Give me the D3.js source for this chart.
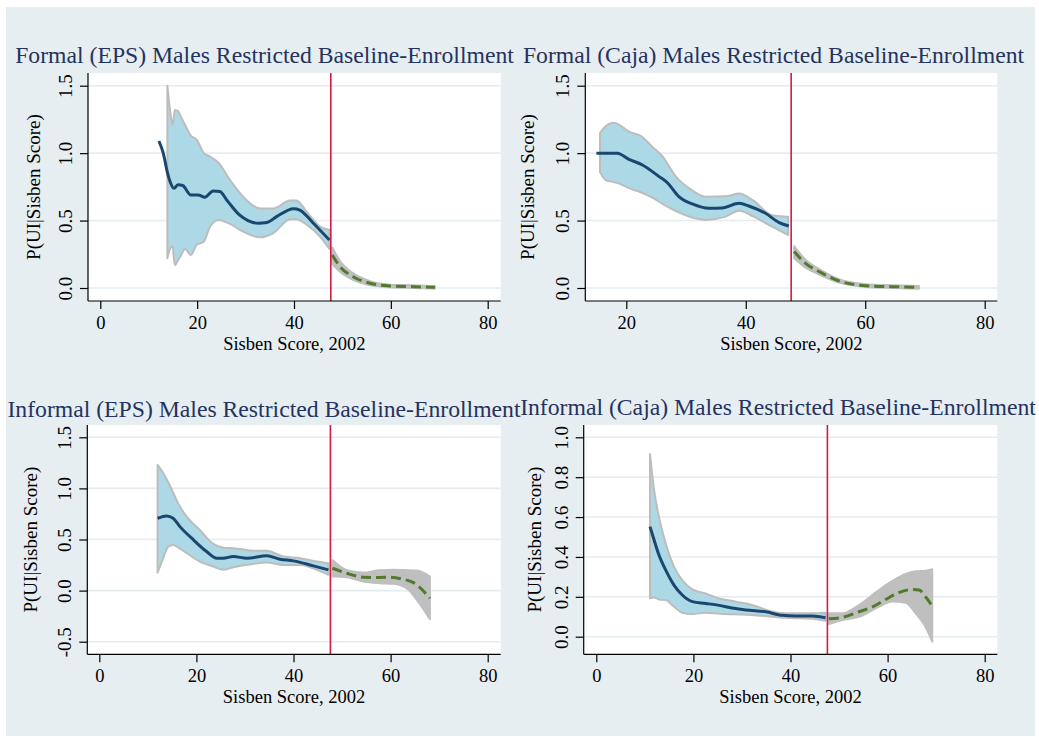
<!DOCTYPE html>
<html>
<head>
<meta charset="utf-8">
<script src="https://cdn.jsdelivr.net/npm/d3@7"></script>
<style>
  body { margin: 0; background: #ffffff; }
  svg { display: block; }
</style>
</head>
<body>
<svg id="chart" width="1039" height="737"></svg>
<script>
// ---- data -------------------------------------------------------------
const panelTitles = [
  "Formal (EPS) Males Restricted Baseline-Enrollment",
  "Formal (Caja) Males Restricted Baseline-Enrollment",
  "Informal (EPS) Males Restricted Baseline-Enrollment",
  "Informal (Caja) Males Restricted Baseline-Enrollment"
];
const xAxisTitle = "Sisben Score, 2002";
const yAxisTitle = "P(UI|Sisben Score)";
const xTickValues = [[0, 20, 40, 60, 80], [20, 40, 60, 80], [0, 20, 40, 60, 80], [0, 20, 40, 60, 80]];
const yTickValues = [[0, 0.5, 1, 1.5], [0, 0.5, 1, 1.5], [-0.5, 0, 0.5, 1, 1.5], [0, 0.2, 0.4, 0.6, 0.8, 1]];
const cutoffScore = 47.6;

// fitted values [score, p] and confidence bands [score, lower, upper]
const formalEpsFitBelow = [[12.1,1.09],[13.0,1.0],[13.9,0.85],[14.4,0.79],[15.2,0.74],[16.1,0.765],[17.0,0.76],[18.7,0.69],[20.2,0.69],[21.6,0.673],[23.3,0.72],[24.7,0.715],[26.1,0.653],[28.8,0.54],[30.5,0.50],[32.6,0.48],[34.4,0.485],[36.4,0.529],[39.9,0.588],[41.2,0.578],[44.0,0.48],[47.3,0.356]];
const formalEpsBandBelow = [[13.85,0.22,1.50],[14.4,0.29,1.32],[14.9,0.31,1.21],[15.4,0.17,1.32],[16.1,0.21,1.31],[16.5,0.23,1.28],[17.5,0.29,1.21],[18.7,0.245,1.13],[19.9,0.32,1.10],[21.4,0.345,1.0],[22.65,0.455,0.975],[24.4,0.505,0.93],[26.8,0.475,0.80],[29.5,0.418,0.677],[33.0,0.376,0.59],[35.7,0.406,0.59],[39.2,0.509,0.648],[40.5,0.51,0.648],[42.6,0.47,0.566],[45.4,0.38,0.455],[47.3,0.29,0.43]];
const formalEpsFitAbove = [[47.9,0.245],[49.5,0.158],[52.2,0.084],[55.7,0.035],[59.8,0.015],[64.6,0.01],[69.1,0.005]];
const formalEpsBandAbove = [[47.9,0.18,0.30],[49.5,0.12,0.20],[52.2,0.06,0.11],[55.7,0.02,0.05],[59.8,0.005,0.025],[64.6,0.0,0.02],[69.1,-0.005,0.015]];

const formalCajaFitBelow = [[15.0,1.0],[18.5,1.0],[20.45,0.954],[22.7,0.912],[25.5,0.826],[26.9,0.78],[28.8,0.677],[31.05,0.623],[33.85,0.591],[36.1,0.594],[38.9,0.628],[40.5,0.608],[43.3,0.554],[45.6,0.485],[47.2,0.46]];
const formalCajaBandBelow = [[15.6,0.86,1.15],[16.55,0.80,1.20],[17.9,0.785,1.226],[18.8,0.775,1.21],[20.45,0.74,1.16],[22.4,0.71,1.128],[24.35,0.67,1.048],[26.0,0.625,0.979],[28.3,0.57,0.826],[30.5,0.53,0.74],[33.3,0.505,0.677],[36.6,0.529,0.68],[38.9,0.573,0.70],[41.1,0.534,0.653],[44.4,0.455,0.54],[47.1,0.393,0.529]];
const formalCajaFitAbove = [[48.1,0.27],[50.0,0.183],[52.3,0.121],[55.6,0.052],[60.1,0.017],[64.5,0.01],[69.0,0.005]];
const formalCajaBandAbove = [[48.1,0.22,0.31],[50.0,0.15,0.21],[52.3,0.10,0.14],[55.6,0.04,0.065],[60.1,0.008,0.028],[64.5,0.0,0.02],[69.0,-0.005,0.015]];

const informalEpsFitBelow = [[12.0,0.708],[13.9,0.731],[15.2,0.708],[16.6,0.626],[19.4,0.496],[22.1,0.382],[24.2,0.317],[25.5,0.317],[27.6,0.333],[30.4,0.317],[34.5,0.34],[37.2,0.307],[40.0,0.291],[44.1,0.242],[47.2,0.203]];
const informalEpsBandBelow = [[12.0,0.176,1.23],[12.9,0.284,1.17],[14.2,0.43,1.06],[15.2,0.447,0.96],[16.6,0.41,0.822],[18.0,0.366,0.724],[20.7,0.284,0.594],[23.5,0.235,0.457],[25.5,0.203,0.42],[27.6,0.229,0.415],[31.7,0.261,0.391],[34.5,0.274,0.391],[37.9,0.251,0.333],[41.4,0.251,0.317],[44.8,0.203,0.284],[47.2,0.154,0.268]];
const informalEpsFitAbove = [[48.0,0.219],[51.0,0.17],[54.4,0.131],[57.8,0.128],[59.9,0.131],[62.6,0.111],[64.7,0.078],[66.4,0.013],[68.1,-0.075]];
const informalEpsBandAbove = [[48.0,0.137,0.30],[51.0,0.131,0.20],[54.4,0.088,0.176],[57.8,0.072,0.20],[60.6,0.066,0.203],[63.3,0.023,0.20],[65.4,-0.091,0.196],[68.1,-0.28,0.137]];

const informalCajaFitBelow = [[11.06,0.552],[11.9,0.485],[12.9,0.41],[14.3,0.334],[16.0,0.259],[17.7,0.209],[19.8,0.176],[22.5,0.167],[25.3,0.157],[28.0,0.144],[30.8,0.134],[34.9,0.125],[38.3,0.107],[41.1,0.104],[44.5,0.104],[47.2,0.095]];
const informalCajaBandBelow = [[11.06,0.192,0.916],[11.9,0.197,0.736],[12.9,0.187,0.602],[14.3,0.184,0.468],[16.0,0.15,0.351],[17.7,0.12,0.284],[19.8,0.114,0.237],[22.5,0.12,0.217],[25.3,0.115,0.192],[28.7,0.112,0.176],[32.1,0.109,0.159],[36.3,0.10,0.125],[39.0,0.095,0.117],[44.5,0.09,0.117],[47.2,0.08,0.12]];
const informalCajaFitAbove = [[47.9,0.09],[50.7,0.097],[54.1,0.125],[56.9,0.15],[59.6,0.187],[62.3,0.221],[65.1,0.237],[66.5,0.234],[67.8,0.2],[69.2,0.154]];
const informalCajaBandAbove = [[47.9,0.064,0.117],[50.7,0.084,0.117],[54.1,0.10,0.159],[58.2,0.15,0.234],[61.0,0.176,0.28],[63.7,0.17,0.315],[65.8,0.117,0.328],[67.8,0.05,0.331],[69.2,-0.025,0.338]];

// ---- layout -----------------------------------------------------------
const panels = [
  { frame: { l: 88, r: 500.7, t: 73, b: 301 }, xd: [0, 80], xr: [100.3, 487.7], yd: [0, 1.5], yr: [288, 85.7],
    titleX: 264.5, titleY: 63.3, yTitleOff: 48,
    fitBelow: formalEpsFitBelow, bandBelow: formalEpsBandBelow, fitAbove: formalEpsFitAbove, bandAbove: formalEpsBandAbove },
  { frame: { l: 585.3, r: 997.3, t: 73, b: 301 }, xd: [20, 80], xr: [626.3, 984.7], yd: [0, 1.5], yr: [288, 85.7],
    titleX: 773.5, titleY: 63.3, yTitleOff: 51,
    fitBelow: formalCajaFitBelow, bandBelow: formalCajaBandBelow, fitAbove: formalCajaFitAbove, bandAbove: formalCajaBandAbove },
  { frame: { l: 87.3, r: 500.7, t: 425, b: 654.3 }, xd: [0, 80], xr: [99.3, 487.7], yd: [-0.5, 1.5], yr: [641.7, 437.3],
    titleX: 264, titleY: 416.7, yTitleOff: 50,
    fitBelow: informalEpsFitBelow, bandBelow: informalEpsBandBelow, fitAbove: informalEpsFitAbove, bandAbove: informalEpsBandAbove },
  { frame: { l: 583.7, r: 997.3, t: 425, b: 654.3 }, xd: [0, 80], xr: [596.3, 984.7], yd: [0, 1], yr: [636.7, 437.3],
    titleX: 778, titleY: 415, yTitleOff: 43,
    fitBelow: informalCajaFitBelow, bandBelow: informalCajaBandBelow, fitAbove: informalCajaFitAbove, bandAbove: informalCajaBandAbove }
];

const serif = '"Liberation Serif", "Times New Roman", Times, serif';
const colors = {
  region: "#e7eef1", grid: "#e4ecf0", title: "#24335f",
  fit: "#1a476f", ciFill: "#add8e6", ciEdge: "#bdbdbd",
  aboveFill: "#bfbfbf", aboveFit: "#527a2e", cutoff: "#d31a42"
};

const svg = d3.select("#chart");
svg.append("rect").attr("x", 6).attr("y", 7).attr("width", 1029).attr("height", 729).attr("fill", colors.region);

panels.forEach((p, i) => {
  const f = p.frame;
  const x = d3.scaleLinear().domain(p.xd).range(p.xr);
  const y = d3.scaleLinear().domain(p.yd).range(p.yr);
  const g = svg.append("g");

  g.append("text").attr("x", p.titleX).attr("y", p.titleY).attr("text-anchor", "middle")
    .attr("font-size", 23.7).attr("fill", colors.title).text(panelTitles[i]);

  g.append("rect").attr("x", f.l).attr("y", f.t).attr("width", f.r - f.l).attr("height", f.b - f.t).attr("fill", "#ffffff");

  // horizontal grid
  g.selectAll(".grid").data(yTickValues[i]).join("line")
    .attr("x1", f.l).attr("x2", f.r).attr("y1", d => y(d)).attr("y2", d => y(d))
    .attr("stroke", colors.grid).attr("stroke-width", 1.6);

  const area = d3.area().x(d => x(d[0])).y0(d => y(d[1])).y1(d => y(d[2])).curve(d3.curveMonotoneX);
  const line = d3.line().x(d => x(d[0])).y(d => y(d[1])).curve(d3.curveMonotoneX);

  g.append("path").datum(p.bandBelow).attr("d", area)
    .attr("fill", colors.ciFill).attr("stroke", colors.ciEdge).attr("stroke-width", 2).attr("stroke-linejoin", "round");
  g.append("path").datum(p.bandAbove).attr("d", area)
    .attr("fill", colors.aboveFill).attr("stroke", colors.aboveFill).attr("stroke-width", 2).attr("stroke-linejoin", "round");

  g.append("path").datum(p.fitBelow).attr("d", line)
    .attr("fill", "none").attr("stroke", colors.fit).attr("stroke-width", 3).attr("stroke-linejoin", "round");
  g.append("path").datum(p.fitAbove).attr("d", line)
    .attr("fill", "none").attr("stroke", colors.aboveFit).attr("stroke-width", 3).attr("stroke-dasharray", "10,5");

  g.append("line").attr("x1", x(cutoffScore)).attr("x2", x(cutoffScore)).attr("y1", f.t).attr("y2", f.b)
    .attr("stroke", colors.cutoff).attr("stroke-width", 1.6);

  // axes
  const yAxis = g.append("g").attr("transform", `translate(${f.l},0)`)
    .call(d3.axisLeft(y).tickValues(yTickValues[i]).tickSize(8).tickFormat(d => d.toFixed(1)));
  yAxis.select(".domain").attr("d", `M0,${f.t}V${f.b}`).attr("stroke", "#000").attr("stroke-width", 1.2);
  yAxis.selectAll(".tick line").attr("stroke", "#000").attr("stroke-width", 1.2);
  yAxis.selectAll(".tick text").attr("transform", "rotate(-90)").attr("x", 0).attr("y", -16).attr("dy", 0)
    .attr("text-anchor", "middle").attr("font-size", 19).attr("fill", "#000");

  const xAxis = g.append("g").attr("transform", `translate(0,${f.b})`)
    .call(d3.axisBottom(x).tickValues(xTickValues[i]).tickSize(8).tickFormat(d3.format("d")));
  xAxis.select(".domain").attr("d", `M${f.l},0H${f.r}`).attr("stroke", "#000").attr("stroke-width", 1.2);
  xAxis.selectAll(".tick line").attr("stroke", "#000").attr("stroke-width", 1.2);
  xAxis.selectAll(".tick text").attr("y", 28).attr("dy", 0)
    .attr("font-size", 18.5).attr("fill", "#000");

  g.append("text").attr("x", (f.l + f.r) / 2).attr("y", f.b + 49).attr("text-anchor", "middle")
    .attr("font-size", 18.5).attr("fill", "#000").text(xAxisTitle);
  g.append("text").attr("transform", `translate(${f.l - p.yTitleOff},${(f.t + f.b) / 2}) rotate(-90)`)
    .attr("text-anchor", "middle").attr("font-size", 19).attr("fill", "#000").text(yAxisTitle);
});

svg.selectAll("g").attr("font-family", serif);
svg.selectAll("text").style("font-family", serif);
</script>
</body>
</html>
